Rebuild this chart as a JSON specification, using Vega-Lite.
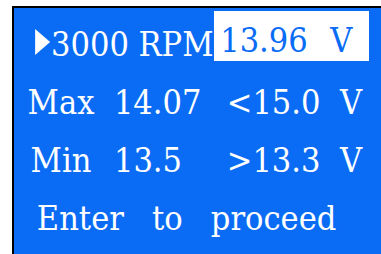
{
  "$schema": "https://vega.github.io/schema/vega-lite/v6.json",
  "width": 381,
  "height": 254,
  "autosize": {"type": "fit", "contains": "padding"},
  "padding": 0,
  "background": "#ffffff",
  "config": {"view": {"stroke": null}},
  "datasets": {
    "screen": [{"col": -0.983, "col2": 19, "row": -0.858, "row2": 4}],
    "box": [{"col": 9.415, "col2": 17.434, "row": -0.789, "row2": 0.078}],
    "cursor": [{"col": 0.55, "row": 0}],
    "lines": [
      {"row": 0, "col": 3.0, "text": "3000"},
      {"row": 0, "col": 7.45, "text": "RPM"},
      {"row": 1, "col": 1.5, "text": "Max"},
      {"row": 1, "col": 6.5, "text": "14.07"},
      {"row": 1, "col": 12.5, "text": "<15.0"},
      {"row": 1, "col": 16.5, "text": "V"},
      {"row": 2, "col": 1.5, "text": "Min"},
      {"row": 2, "col": 6.0, "text": "13.5"},
      {"row": 2, "col": 12.5, "text": ">13.3"},
      {"row": 2, "col": 16.5, "text": "V"},
      {"row": 3, "col": 2.5, "text": "Enter"},
      {"row": 3, "col": 7.0, "text": "to"},
      {"row": 3, "col": 12.5, "text": "proceed"}
    ],
    "selected": [
      {"row": -0.078, "col": 12.0, "text": "13.96"},
      {"row": -0.078, "col": 16.0, "text": "V"}
    ]
  },
  "encoding": {
    "x": {"field": "col", "type": "quantitative", "axis": null,
          "scale": {"domain": [-1.6555, 18.055], "nice": false, "zero": false}},
    "y": {"field": "row", "type": "quantitative", "axis": null,
          "scale": {"domain": [3.4247, -0.9797], "nice": false, "zero": false}}
  },
  "layer": [
    {
      "data": {"name": "screen"},
      "mark": {"type": "rect", "fill": "#0a6cf5", "stroke": "#000000", "strokeWidth": 2, "clip": true},
      "encoding": {"x2": {"field": "col2"}, "y2": {"field": "row2"}}
    },
    {
      "data": {"name": "box"},
      "mark": {"type": "rect", "fill": "#ffffff", "stroke": null},
      "encoding": {"x2": {"field": "col2"}, "y2": {"field": "row2"}}
    },
    {
      "data": {"name": "cursor"},
      "mark": {"type": "point", "shape": "M-0.577,-1L0.577,0L-0.577,1Z", "size": 676, "filled": true, "color": "#ffffff", "opacity": 1, "strokeWidth": 0, "yOffset": -14.5}
    },
    {
      "data": {"name": "lines"},
      "mark": {"type": "text", "font": "DejaVu Serif Condensed, DejaVu Serif", "fontSize": 34, "align": "center", "baseline": "alphabetic", "color": "#ffffff"},
      "encoding": {"text": {"field": "text"}}
    },
    {
      "data": {"name": "selected"},
      "mark": {"type": "text", "font": "DejaVu Serif Condensed, DejaVu Serif", "fontSize": 34, "align": "center", "baseline": "alphabetic", "color": "#0a6cf5"},
      "encoding": {"text": {"field": "text"}}
    }
  ]
}
